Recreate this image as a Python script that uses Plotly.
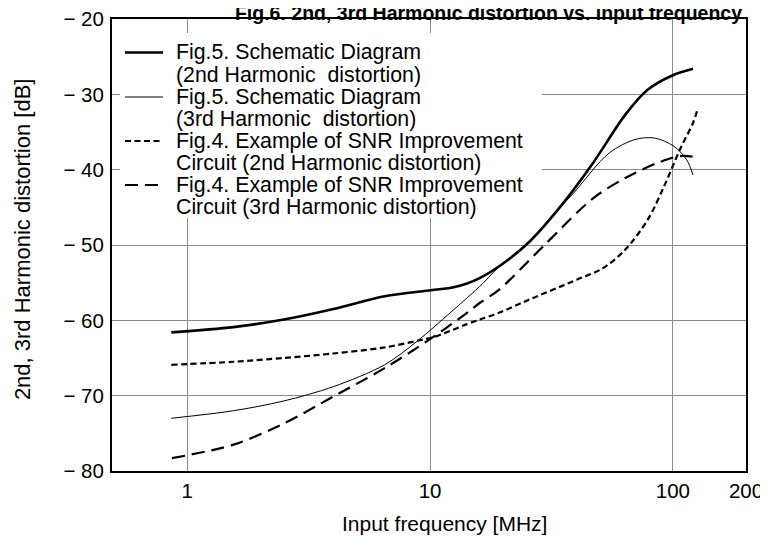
import plotly.graph_objects as go

# Fig.5 schematic, 2nd harmonic (thick solid)
f_fig5_2nd = [0.86, 1.55, 2.5, 4.0, 6.5, 10.1, 12.5, 14.2, 16.0, 19.2, 25.4, 34.4, 46.9, 63.7, 78.7, 101, 121]
db_fig5_2nd = [-61.6, -60.9, -59.9, -58.5, -56.8, -56.0, -55.6, -55.1, -54.4, -52.85, -49.7, -44.9, -39.1, -32.7, -29.4, -27.4, -26.6]

# Fig.5 schematic, 3rd harmonic (thin solid)
f_fig5_3rd = [0.86, 1.55, 2.5, 4.0, 6.5, 8.9, 12.1, 16.5, 19.2, 25.4, 34.4, 39.0, 54.6, 69.8, 84, 101, 114, 121]
db_fig5_3rd = [-73.0, -72.0, -70.7, -68.8, -65.9, -62.7, -59.0, -55.1, -52.9, -49.8, -45.0, -43.1, -37.8, -36.0, -35.8, -36.9, -38.7, -40.7]

# Fig.4 SNR improvement circuit, 2nd harmonic (short dash)
f_fig4_2nd = [0.86, 1.55, 2.5, 4.0, 6.5, 8.9, 10.4, 14.2, 16.0, 19.2, 25.4, 40.2, 51.4, 63.7, 78.9, 92, 107, 121, 126]
db_fig4_2nd = [-65.9, -65.5, -65.0, -64.4, -63.6, -62.7, -62.2, -60.5, -59.9, -59.0, -57.3, -54.6, -53.1, -50.6, -46.6, -42.2, -37.3, -33.8, -32.1]

# Fig.4 SNR improvement circuit, 3rd harmonic (long dash)
f_fig4_3rd = [0.865, 1.55, 2.5, 4.0, 6.5, 10.1, 14.2, 16.0, 19.2, 29.6, 46.9, 63.7, 86.5, 107, 129]
db_fig4_3rd = [-78.3, -76.5, -73.7, -70.1, -66.35, -62.4, -59.0, -57.7, -55.95, -50.0, -43.8, -41.1, -39.1, -38.2, -38.4]

legend_lines = [
    "Fig.5. Schematic Diagram", "(2nd Harmonic  distortion)",
    "Fig.5. Schematic Diagram", "(3rd Harmonic  distortion)",
    "Fig.4. Example of SNR Improvement", "Circuit (2nd Harmonic distortion)",
    "Fig.4. Example of SNR Improvement", "Circuit (3rd Harmonic distortion)",
]

x_ticks = [1, 10, 100, 200]
y_ticks = [-80, -70, -60, -50, -40, -30, -20]

FONT = "Liberation Sans, Arial, Helvetica, sans-serif"

series = [
    (f_fig5_2nd, db_fig5_2nd, dict(color="black", width=2.6)),
    (f_fig5_3rd, db_fig5_3rd, dict(color="black", width=1)),
    (f_fig4_2nd, db_fig4_2nd, dict(color="black", width=2.2, dash="6px,3.5px")),
    (f_fig4_3rd, db_fig4_3rd, dict(color="black", width=2.2, dash="13px,7px")),
]

fig = go.Figure()
for fx, fy, ln in series:
    fig.add_trace(go.Scatter(
        x=fx, y=fy, mode="lines",
        line=dict(shape="spline", smoothing=0.9, **ln),
        showlegend=False, hoverinfo="skip",
    ))

# plot area is 634 x 452 px; legend drawn by hand (the original's line spacing is tighter than plotly's legend)
PW, PH = 634, 452
shapes = [dict(type="rect", xref="paper", yref="paper", x0=8 / PW, x1=430 / PW, y0=253 / PH, y1=438 / PH,
               fillcolor="white", line=dict(width=0), layer="above")]
annotations = []
line_y = [52.5, 74.5, 97, 119, 141, 163, 185, 207]   # text line centres, px from top of chart
for i, txt in enumerate(legend_lines):
    annotations.append(dict(x=62 / PW, y=(471 - line_y[i]) / PH, xref="paper", yref="paper", text=txt,
                            showarrow=False, xanchor="left", yanchor="middle",
                            font=dict(size=21.3, color="black", family=FONT)))
for k, (_, _, ln) in enumerate(series):
    yp = (471 - line_y[2 * k]) / PH
    shapes.append(dict(type="line", xref="paper", yref="paper", x0=13 / PW, x1=51 / PW, y0=yp, y1=yp,
                       line=dict(color="black", width=ln["width"], dash=ln.get("dash", "solid")), layer="above"))

# axis titles
annotations.append(dict(x=333 / PW, y=-52 / PH, xref="paper", yref="paper", text="Input frequency [MHz]",
                        showarrow=False, xanchor="center", yanchor="middle",
                        font=dict(size=21, color="black", family=FONT)))
annotations.append(dict(x=-90 / PW, y=0.513, xref="paper", yref="paper", text="2nd, 3rd Harmonic distortion [dB]",
                        showarrow=False, xanchor="center", yanchor="middle", textangle=-90,
                        font=dict(size=22, color="black", family=FONT)))

# page has an 8px body margin, so the figure is 760x532 and sits at (8, 8)
fig.update_layout(
    width=760, height=532,
    margin=dict(l=104, r=22, t=11, b=69, autoexpand=False),
    plot_bgcolor="white", paper_bgcolor="white",
    font=dict(family=FONT, size=20.5, color="black"),
    title=dict(text="<b>Fig.6. 2nd, 3rd Harmonic distortion vs. input frequency</b>",
               x=480.5 / 760, xanchor="center", y=1 - 5 / 532, yanchor="middle",
               font=dict(size=19.5, family=FONT, color="black")),
    xaxis=dict(type="log", range=[-0.3098, 0.30103 + 2], automargin=False,
               tickvals=x_ticks, ticktext=[str(v) for v in x_ticks],
               showgrid=True, gridcolor="#8a8a8a", gridwidth=1, zeroline=False,
               showline=True, linecolor="black", linewidth=2, mirror=True,
               ticks="", ticklabelstandoff=0, ticklabeloverflow="allow"),
    yaxis=dict(range=[-80, -20], tickvals=y_ticks, automargin=False,
               ticktext=["\u2212 " + str(-v) for v in y_ticks],
               showgrid=True, gridcolor="#8a8a8a", gridwidth=1, zeroline=False,
               showline=True, linecolor="black", linewidth=2, mirror=True,
               ticks="", ticklabelstandoff=2, ticklabeloverflow="allow"),
    shapes=shapes,
    annotations=annotations,
)

fig.write_html("out.html")
